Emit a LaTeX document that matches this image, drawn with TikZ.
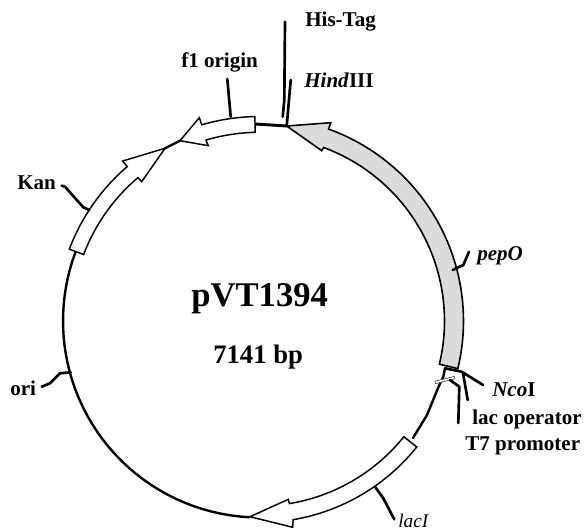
\documentclass[tikz,border=0pt]{standalone}
\usepackage{fontspec}
\setmainfont{Liberation Serif}
\newcommand{\ArcQ}[3]{plot[domain=#2:#3,samples=40] ({259.5+#1*cos(\x)},{321+#1*sin(\x)})}
\newcommand{\ArcP}[3]{-- plot[domain=#2:#3,samples=40] ({259.5+#1*cos(\x)},{321+#1*sin(\x)})}
\tikzset{
  gene/.style={draw=black,line width=1.1pt,line join=miter},
  tick/.style={draw=black,line width=2pt,line cap=round,line join=round},
  bone/.style={draw=black,line width=1.8pt,line cap=round,line join=round},
  lab/.style={font=\fontsize{15.8pt}{18pt}\selectfont\bfseries,anchor=base west,inner sep=0pt,text=black},
}
\begin{document}
\begin{tikzpicture}[x=.75pt,y=-.75pt]
\useasboundingbox (0,0) rectangle (584,531);
% backbone
\draw[bone] \ArcQ{196.5}{93}{200.7};
\draw[bone] (165,148.3) -- (180,140.7);
\draw[bone,line width=2.2pt] (255,124) -- (286.7,126);
\draw[bone] (445,368.3) -- (443.3,376.7) -- (438,388) -- (427,415) -- (413,438);
% genes
\draw[gene,fill=black!14,line width=1.2pt] (286.7,126) -- (330.7,122.7) \ArcP{204}{-70.2}{13.5} \ArcP{185}{13.5}{-69.7} -- (321.7,150.7) -- cycle;
\draw[gene,fill=white] (180,140.7) -- (199.3,117.7) \ArcP{204.5}{-106.4}{-91.3} \ArcP{188.7}{-91.3}{-106.5} -- (208.3,145.7) -- cycle;
\draw[gene,fill=white] (165,148.3) -- (122.7,161) \ArcP{203.3}{-130.6}{-159.3} \ArcP{188}{-159.3}{-130.3} -- (141.7,181.7) -- cycle;
\draw[gene,fill=white] (250,516.7) -- (292.7,527.3) \ArcP{201.5}{80.4}{38.7} \ArcP{185}{38.7}{80.7} -- (288.3,499.3) -- cycle;
% small bar
\draw[draw=black!70,fill=white,line width=.5pt,rotate around={14:(445,380)}] (435,378.8) rectangle (455,381.2);
% ticks
\draw[tick] (227.3,79) -- (230.7,116.7);
\draw[tick] (285,21.7) -- (284.3,100) -- (282.7,116.7);
\draw[tick] (290.7,80) -- (286.7,126);
\draw[tick] (61.7,185.7) -- (65,186.7) -- (83.3,207.3) -- (89.3,210);
\draw[tick] (41.7,386.7) -- (50,383.3) -- (60,373.3) -- (70.7,372.3);
\draw[tick] (469,251.7) -- (463.3,265) -- (452.7,270);
\draw[tick] (375,486.7) -- (383.3,498.3) -- (394.3,519.3);
\draw[tick] (445,368.3) -- (461.7,371.7) -- (483,385);
\draw[tick] (463,373) -- (467.7,400);
\draw[tick] (450,380) -- (459.3,386.7) -- (458.3,423);
% labels
\node[lab] (his) at (305,27) {His-Tag};
\node[lab] (f1) at (181,68) {f1 origin};
\node[lab] (hind) at (304,87.5) {\textit{Hind}III};
\node[lab] (kan) at (17,189.5) {Kan};
\node[lab] (pep) at (477,260) {\textit{pepO}};
\node[lab] (nco) at (492,396.7) {\textit{Nco}I};
\node[lab] (lacop) at (472,424.3) {lac operator};
\node[lab] (t7) at (465,450) {T7 promoter};
\node[lab] (ori) at (10,395.5) {ori};
\node[lab,font=\fontsize{14.5pt}{17pt}\selectfont\itshape] (laci) at (398,527) {lacI};
\node[lab,font=\fontsize{26pt}{29pt}\selectfont\bfseries] (name) at (191,306) {pVT1394};
\node[lab,font=\fontsize{20pt}{23pt}\selectfont\bfseries] (size) at (213,363) {7141 bp};
\end{tikzpicture}
\end{document}
